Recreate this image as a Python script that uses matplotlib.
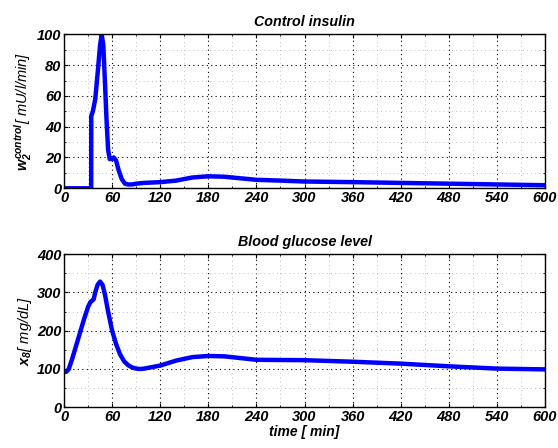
import numpy as np
import matplotlib
matplotlib.use("Agg")
import matplotlib.pyplot as plt
from matplotlib.ticker import MultipleLocator

### data
t_ins = [0, 33.9, 34, 36, 39, 42, 45, 47, 49, 51, 53, 55, 57, 59, 62, 65, 68, 72,
         76, 80, 85, 90, 100, 120, 140, 160, 180, 200, 220, 240, 270, 300, 360,
         420, 480, 540, 600]
insulin = [0, 0, 47, 50, 58, 75, 93, 100, 93, 70, 45, 25, 19, 19, 20, 18, 12, 6,
           3, 2.5, 2.5, 3, 3.5, 4, 5, 7, 7.8, 7.5, 6.5, 5.5, 5, 4.4, 4, 3.5, 3,
           2.5, 2]

t_glu = [0, 3, 6, 10, 15, 20, 25, 30, 33, 35, 37, 39, 42, 45, 48, 51, 55, 60, 65,
         70, 75, 80, 85, 90, 95, 100, 110, 120, 140, 160, 180, 200, 240, 300, 360,
         420, 480, 540, 600]
glucose = [92, 93, 100, 125, 160, 195, 230, 262, 275, 278, 282, 300, 320, 328,
           320, 295, 250, 200, 165, 138, 120, 110, 104, 101, 100, 101, 105, 109,
           122, 131, 134, 133, 124, 123, 119, 114, 107, 101, 99]

xticks = np.arange(0, 601, 60)

plt.rcParams['font.family'] = ['Liberation Sans', 'DejaVu Sans']
plt.rcParams['font.weight'] = 'bold'
plt.rcParams['font.style'] = 'italic'
plt.rcParams['mathtext.fontset'] = 'custom'
plt.rcParams['mathtext.rm'] = 'Liberation Sans:bold:italic'
plt.rcParams['mathtext.it'] = 'Liberation Sans:bold:italic'
plt.rcParams['mathtext.bf'] = 'Liberation Sans:bold:italic'


def style_axes(ax, ymax, ymajor, yminor):
    ax.set_xlim(0, 600)
    ax.set_ylim(0, ymax)
    ax.set_xticks(xticks)
    ax.xaxis.set_minor_locator(MultipleLocator(30))
    ax.yaxis.set_major_locator(MultipleLocator(ymajor))
    ax.yaxis.set_minor_locator(MultipleLocator(yminor))
    ax.tick_params(which='both', direction='in', top=True, right=True,
                   labelsize=10.5, pad=2)
    ax.tick_params(which='major', length=3)
    ax.tick_params(which='minor', length=1.5)
    ax.grid(which='major', color='black', linestyle=(0, (1, 3)), linewidth=0.8)
    ax.grid(which='minor', color='#aaaaaa', linestyle=(0, (1, 4)), linewidth=0.6)
    for lab in ax.get_xticklabels() + ax.get_yticklabels():
        lab.set_fontweight('bold')
        lab.set_fontstyle('italic')
    for s in ax.spines.values():
        s.set_linewidth(1.0)


fig = plt.figure(figsize=(5.58, 4.48), dpi=100)
ax1 = fig.add_axes([0.1147, 0.5797, 0.862, 0.3437])
ax2 = fig.add_axes([0.1147, 0.0908, 0.862, 0.3422])

ax1.plot(t_ins, insulin, color='#0000ff', linewidth=3.2, solid_joinstyle='round')
style_axes(ax1, 100, 20, 10)
ax1.set_title('Control insulin', fontsize=10.3, fontweight='bold', style='italic', pad=6)
ax1.set_ylabel(r'$w_2^{control}$[ mU/l/min]', fontsize=10.5, labelpad=2)

ax2.plot(t_glu, glucose, color='#0000ff', linewidth=3.2, solid_joinstyle='round')
style_axes(ax2, 400, 100, 50)
ax2.set_title('Blood glucose level', fontsize=10.3, fontweight='bold', style='italic', pad=6)
ax2.set_ylabel(r'$x_8$[ mg/dL]', fontsize=10.5, labelpad=2)
ax2.set_xlabel('time [ min]', fontsize=10, fontweight='bold', style='italic', labelpad=1)

fig.savefig('out.png', dpi=100)
